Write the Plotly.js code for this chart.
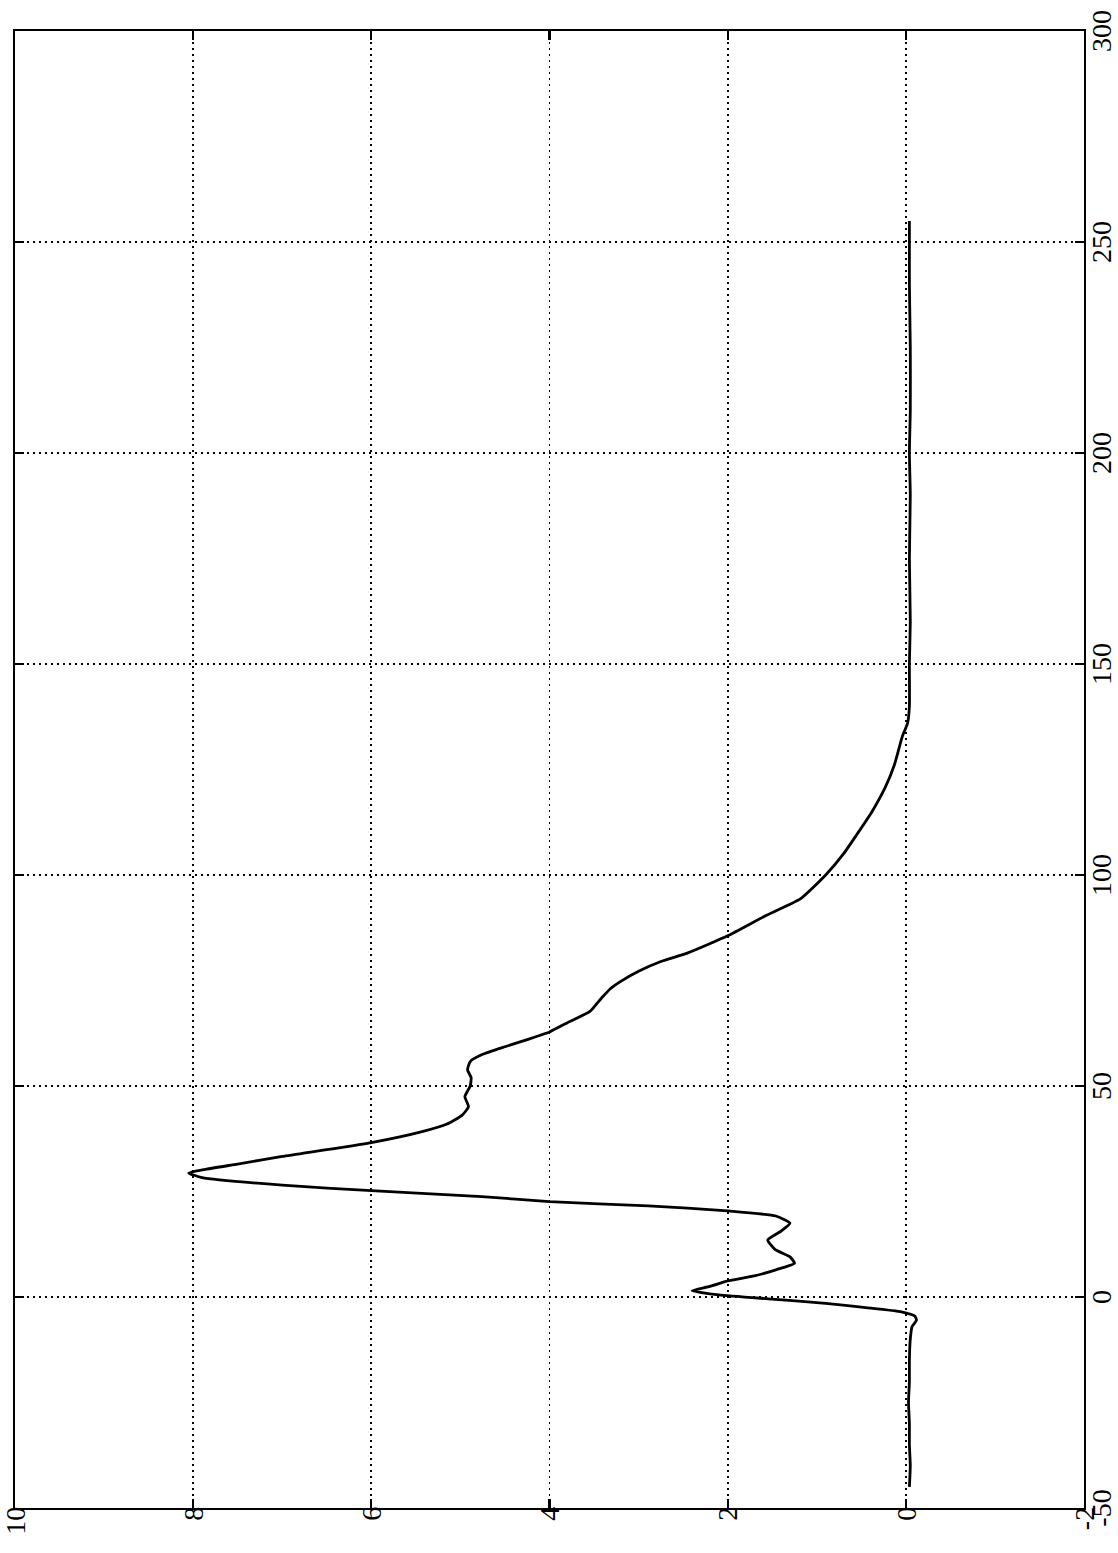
<!DOCTYPE html>
<html>
<head>
<meta charset="utf-8">
<script src="https://cdn.plot.ly/plotly-3.0.1.min.js"></script>
<style>
html, body { margin: 0; padding: 0; background: #ffffff; overflow: hidden; width: 1118px; height: 1553px; }
#chart { position: absolute; left: 0; top: 0; width: 1553px; height: 1118px;
  transform-origin: 0 0; transform: translate(0px, 1553px) rotate(-90deg); }
</style>
</head>
<body>
<div id="chart"></div>
<script>
// time axis (drawn bottom-to-top on the page)
const time = [-45, -40, -35, -30, -25, -20, -15, -10, -7, -5.5, -4.5, -3.5, -2.5, -1.5, -0.5, 0.5, 1.5, 2.5, 3.8, 5, 6.5, 8, 9.5, 11.3, 13.5, 15.6, 17.5, 19.2, 20.4, 21.6, 22.6, 23.8, 25.2, 26.5, 28.3, 29.4, 30.3, 31.5, 33.3, 36.6, 39.2, 41, 43.1, 45.1, 47.5, 50, 52, 53.8, 55.8, 57.5, 59.3, 61, 62.8, 65, 67.6, 69.5, 71.2, 73, 74.8, 77.2, 79.5, 81.6, 85.6, 90.4, 94.4, 100, 105, 109.6, 115, 120.8, 126, 132.8, 136, 140, 150, 160, 175, 190, 200, 210, 225, 240, 255];
// measured values (drawn right-to-left on the page)
const values = [-0.04, -0.05, -0.04, -0.04, -0.03, -0.04, -0.04, -0.05, -0.07, -0.12, -0.1, 0.05, 0.45, 0.9, 1.5, 2.1, 2.4, 2.2, 2.0, 1.7, 1.45, 1.25, 1.3, 1.47, 1.55, 1.4, 1.3, 1.46, 2.0, 2.89, 4.0, 4.76, 6.0, 7.0, 7.9, 8.05, 7.85, 7.5, 7.0, 6.0, 5.43, 5.15, 4.98, 4.91, 4.95, 4.89, 4.88, 4.92, 4.89, 4.75, 4.5, 4.25, 4.0, 3.8, 3.55, 3.47, 3.4, 3.32, 3.2, 3.0, 2.75, 2.44, 2.0, 1.57, 1.18, 0.9, 0.7, 0.55, 0.38, 0.23, 0.13, 0.04, -0.02, -0.04, -0.04, -0.05, -0.04, -0.05, -0.04, -0.05, -0.05, -0.04, -0.04];
const timeTicks = [-50, 0, 50, 100, 150, 200, 250, 300];
const valueTicks = [-2, 0, 2, 4, 6, 8, 10];

const axisFont = { family: 'Liberation Serif', size: 28, color: '#000000' };
const baseAxis = {
  showline: true, linecolor: '#000000', linewidth: 2.2, mirror: 'ticks',
  ticks: 'inside', ticklen: 9, tickwidth: 2.2, tickcolor: '#000000',
  showgrid: true, gridcolor: '#000000', gridwidth: 1.8, griddash: '2px,4px',
  zeroline: false, tickfont: axisFont, tickmode: 'array',
  ticklabeloverflow: 'allow', automargin: false, ticklabelstandoff: -9
};

const trace = {
  x: time, y: values, type: 'scatter', mode: 'lines',
  line: { color: '#000000', width: 2.8, shape: 'spline', smoothing: 0.5 },
  hoverinfo: 'skip', showlegend: false
};

const layout = {
  width: 1553, height: 1118,
  margin: { l: 45, r: 31, t: 15, b: 34 },
  font: { family: 'Liberation Serif', size: 28, color: '#000000' },
  paper_bgcolor: '#ffffff', plot_bgcolor: '#ffffff',
  xaxis: Object.assign({}, baseAxis, { range: [-50, 300], tickvals: timeTicks, ticktext: timeTicks.map(String) }),
  yaxis: Object.assign({}, baseAxis, { range: [-2, 10], tickvals: valueTicks, ticktext: valueTicks.map(String) }),
  showlegend: false
};

Plotly.newPlot('chart', [trace], layout, { staticPlot: true, displayModeBar: false });
</script>
</body>
</html>
